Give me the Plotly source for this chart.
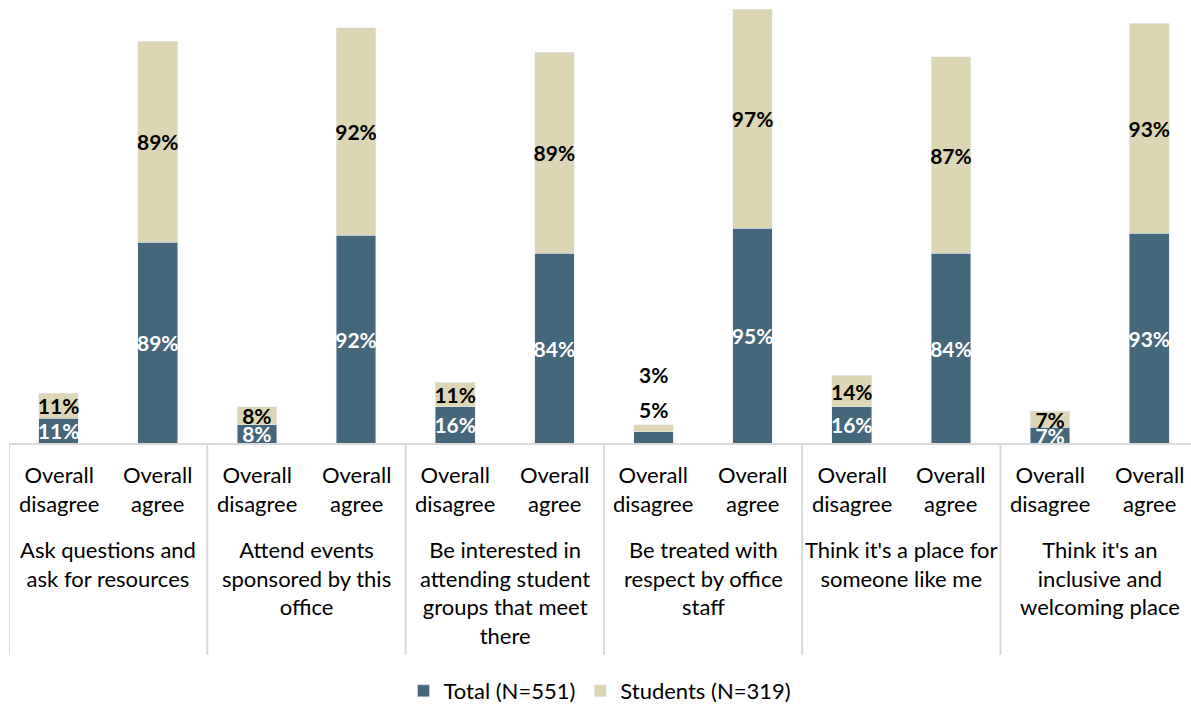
import plotly.graph_objects as go

groups = [
    "Ask questions and<br>ask for resources",
    "Attend events<br>sponsored by this<br>office",
    "Be interested in<br>attending student<br>groups that meet<br>there",
    "Be treated with<br>respect by office<br>staff",
    "Think it's a place for<br>someone like me",
    "Think it's an<br>inclusive and<br>welcoming place",
]
subcats = ["Overall<br>disagree", "Overall<br>agree"]

total_vals = [11, 89, 8, 92, 16, 84, 5, 95, 16, 84, 7, 93]
student_vals = [11, 89, 8, 92, 11, 89, 3, 97, 14, 87, 7, 93]

series_names = ["Total (N=551)", "Students (N=319)"]
colors = ["#44677B", "#DDD6B4"]

FONT = "Lato"
PX_PER_UNIT = 2.258
BASE_PX = 443
FIG_H = 704
FIG_W = 1191

cats = []
for g in groups:
    for s in subcats:
        cats.append(g.replace("<br>", " ") + " | " + s.replace("<br>", " "))

# labels too small to sit inside the bar are drawn above it
small = [i for i in range(len(cats)) if total_vals[i] < 6 or student_vals[i] < 6]

def lab(vals):
    return ["" if i in small else f"{v}%" for i, v in enumerate(vals)]

fig = go.Figure()
fig.add_trace(go.Bar(
    x=cats, y=total_vals, name=series_names[0], marker_color=colors[0],
    text=lab(total_vals), textposition="inside", insidetextanchor="middle",
    textangle=0, constraintext="none",
    insidetextfont=dict(family=FONT, size=21, color="white", weight="bold"),
))
fig.add_trace(go.Bar(
    x=cats, y=student_vals, name=series_names[1], marker_color=colors[1],
    text=lab(student_vals), textposition="inside", insidetextanchor="middle",
    textangle=0, constraintext="none",
    insidetextfont=dict(family=FONT, size=21, color="black", weight="bold"),
))

plot_h = BASE_PX
ymax = plot_h / PX_PER_UNIT
cat_px = 99.15
left = 9
plot_w = FIG_W - left
xmax = -0.5 + plot_w / cat_px

annotations = []
for i in small:
    top = total_vals[i] + student_vals[i]
    annotations.append(dict(x=i, y=top, xref="x", yref="y", text=f"{total_vals[i]}%",
                            showarrow=False, yanchor="middle", yshift=(443 - 409) - top * PX_PER_UNIT,
                            font=dict(family=FONT, size=21, color="black", weight="bold")))
    annotations.append(dict(x=i, y=top, xref="x", yref="y", text=f"{student_vals[i]}%",
                            showarrow=False, yanchor="middle", yshift=(443 - 374) - top * PX_PER_UNIT,
                            font=dict(family=FONT, size=21, color="black", weight="bold")))

for i in range(len(cats)):
    annotations.append(dict(x=i, y=0, xref="x", yref="paper", text=subcats[i % 2],
                            showarrow=False, yanchor="top", yshift=-16,
                            font=dict(family=FONT, size=22, color="black")))
for g, name in enumerate(groups):
    annotations.append(dict(x=2 * g + 0.5, y=0, xref="x", yref="paper", text=name,
                            showarrow=False, yanchor="top", yshift=-91,
                            font=dict(family=FONT, size=22, color="black")))

shapes = []
div_bottom = -(655 - BASE_PX) / plot_h
for g in range(len(groups) + 1):
    shapes.append(dict(type="line", xref="x", yref="paper", x0=2 * g - 0.5, x1=2 * g - 0.5,
                       y0=0, y1=div_bottom, line=dict(color="#D9D9D9", width=2)))

fig.update_layout(
    width=FIG_W, height=FIG_H,
    margin=dict(l=left, r=0, t=0, b=FIG_H - BASE_PX, autoexpand=False),
    barmode="stack", bargap=0.6,
    plot_bgcolor="white", paper_bgcolor="white",
    font=dict(family=FONT, size=22, color="black"),
    xaxis=dict(categoryorder="array", categoryarray=cats, range=[-0.5, xmax],
               showticklabels=False, ticks="", showgrid=False, showline=True,
               linecolor="#D9D9D9", linewidth=2, zeroline=False, fixedrange=True),
    yaxis=dict(visible=False, range=[0, ymax], fixedrange=True),
    showlegend=True,
    legend=dict(orientation="h", x=0.5, xanchor="center", y=-(691 - BASE_PX) / plot_h,
                yanchor="middle", font=dict(family=FONT, size=22, color="black"),
                traceorder="normal", itemwidth=30),
    annotations=annotations, shapes=shapes,
)

fig.write_html("out.html")
